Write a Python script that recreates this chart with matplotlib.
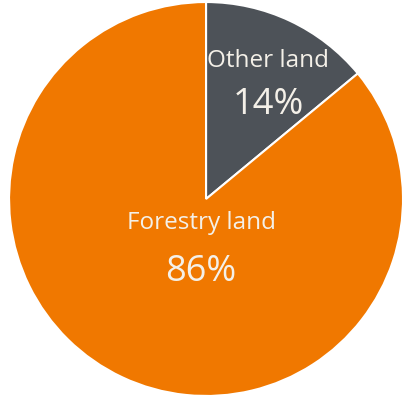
import matplotlib
matplotlib.use("Agg")
import matplotlib.pyplot as plt

labels = ["Other land", "Forestry land"]
shares = [14, 86]
colors = ["#4d5258", "#f07800"]

plt.rcParams["font.family"] = ["Open Sans", "DejaVu Sans"]

fig = plt.figure(figsize=(4.03, 3.98), dpi=100)
ax = fig.add_axes([0, 0, 1, 1])
ax.pie(shares, colors=colors, startangle=90, counterclock=False, radius=1.0,
       wedgeprops=dict(edgecolor="white", linewidth=1.5))
ax.set_xlim(-1.046, 1.0)
ax.set_ylim(-1.010, 1.010)
ax.set_aspect("equal")
ax.axis("off")

# label + percentage inside each wedge
pos = {"Other land": (0.315, 0.70, 0.475), "Forestry land": (-0.025, -0.12, -0.37)}
for lab, val in zip(labels, shares):
    x, y1, y2 = pos[lab]
    ax.text(x, y1, lab, ha="center", va="center", color="#f4f0e8", fontsize=17.5)
    ax.text(x, y2, f"{val}%", ha="center", va="center",
            color="#f4f0e8", fontsize=26)

fig.savefig("out.png", dpi=100)
